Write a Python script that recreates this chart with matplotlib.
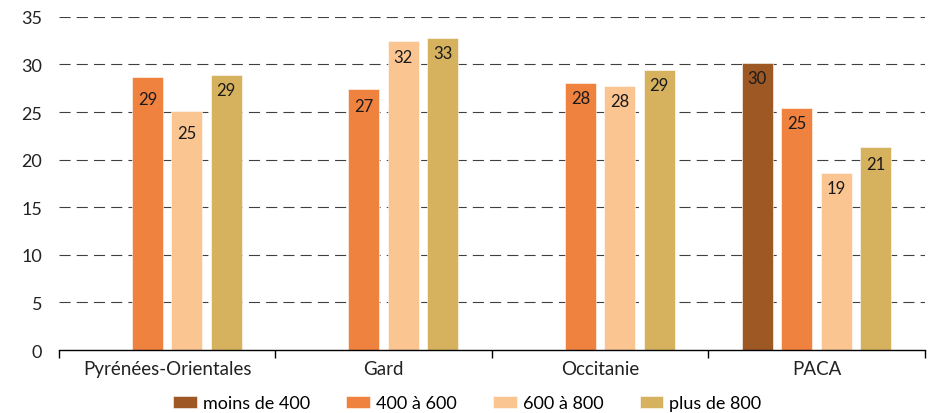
import numpy as np
import matplotlib
matplotlib.use("Agg")
import matplotlib.pyplot as plt

plt.rcParams['font.family'] = ['Lato', 'DejaVu Sans']

categories = ["Pyrénées-Orientales", "Gard", "Occitanie", "PACA"]
series = ["moins de 400", "400 à 600", "600 à 800", "plus de 800"]
moins_400 = [np.nan, np.nan, np.nan, 30.1]
de_400_600 = [28.7, 27.4, 28.0, 25.4]
de_600_800 = [25.1, 32.5, 27.7, 18.6]
plus_800 = [28.9, 32.8, 29.4, 21.3]
values = [moins_400, de_400_600, de_600_800, plus_800]
colors = ["#9D5824", "#F08240", "#FAC591", "#D7B25E"]
yticks = [0, 5, 10, 15, 20, 25, 30, 35]

# extra downward shift (points) of some value labels
label_drop = [[0, 0, 0, 0], [5, 1, 0, 0], [5, 1, 0, 0], [0, 0, 0, 1]]

fig = plt.figure(figsize=(9.35, 4.14), dpi=100)
ax = fig.add_axes([0.063, 0.152, 0.926, 0.805])

x = np.arange(len(categories))
pitch = 0.182
width = 0.143
for i, (name, vals, col) in enumerate(zip(series, values, colors)):
    pos = x + (i - 1.5) * pitch
    ax.bar(pos, vals, width, color=col, label=name, zorder=3,
           edgecolor="white", linewidth=0.4)
    for j, (xp, v) in enumerate(zip(pos, vals)):
        if np.isnan(v):
            continue
        ax.annotate(f"{v:.0f}", (xp, v), xytext=(0, -5 - label_drop[i][j]),
                    textcoords="offset points", ha="center", va="top",
                    fontsize=12, color="#1a1a1a", zorder=4)

ax.set_xlim(-0.5, 3.5)
ax.set_ylim(0, 35)
ax.set_yticks(yticks)
ax.set_yticklabels([str(t) for t in yticks], fontsize=13, color="#222222")
ax.tick_params(axis="y", length=0, pad=12)

# dashed horizontal guides
for t in yticks[1:]:
    ax.axhline(t, color="#404040", linewidth=0.8, linestyle=(0, (10, 5.5)), zorder=1)

# category labels centred on groups, tick marks between groups
ax.set_xticks(x)
ax.set_xticklabels(categories, fontsize=13.5, color="#222222")
ax.tick_params(axis="x", which="major", length=0, pad=7)
ax.set_xticks(np.arange(-0.5, 4.0, 1.0), minor=True)
ax.tick_params(axis="x", which="minor", length=6, width=1, color="black", direction="out")

for s in ["left", "right", "top"]:
    ax.spines[s].set_visible(False)
ax.spines["bottom"].set_color("black")
ax.spines["bottom"].set_linewidth(1)
ax.spines["bottom"].set_zorder(5)

fig.legend(loc="lower center", bbox_to_anchor=(0.5, -0.035), ncol=4, frameon=False,
           fontsize=13, handlelength=1.3, handleheight=0.7, handletextpad=0.35,
           columnspacing=2.0)

fig.savefig("out.png", dpi=100)
